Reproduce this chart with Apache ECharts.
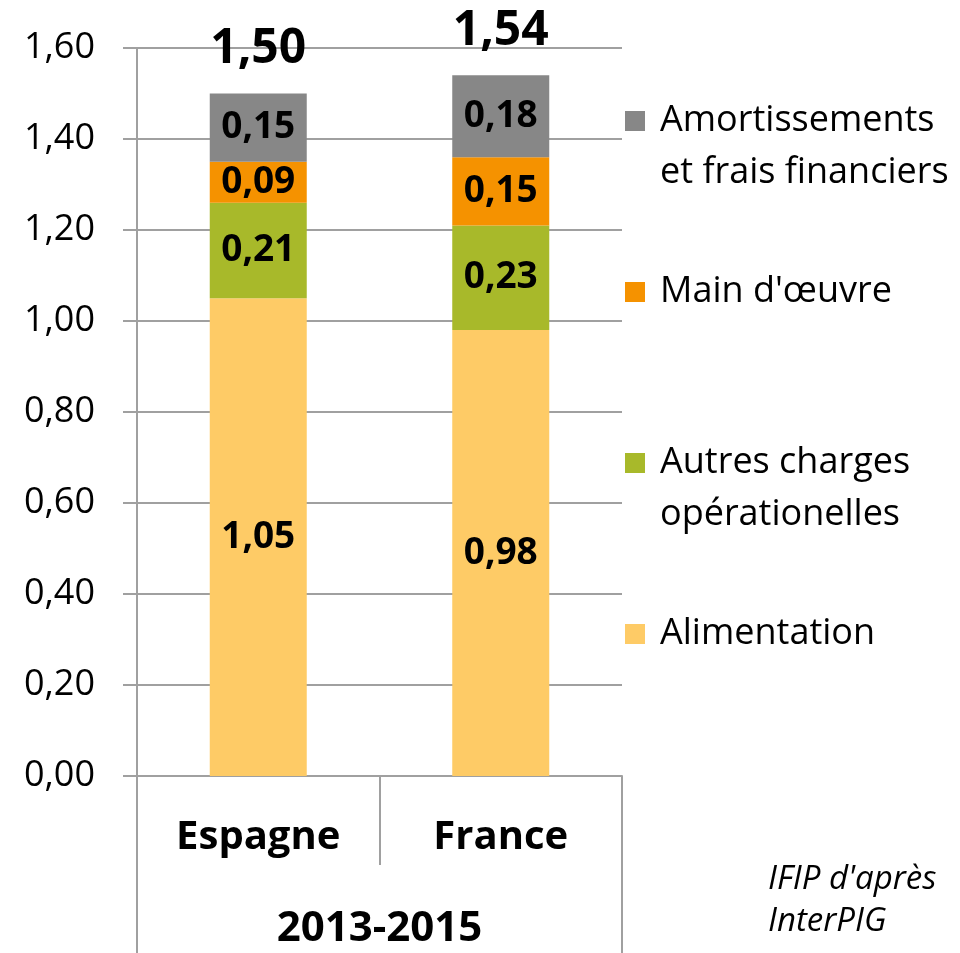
<!DOCTYPE html>
<html>
<head>
<meta charset="utf-8">
<script src="https://cdn.jsdelivr.net/npm/echarts@6/dist/echarts.min.js"></script>
<style>html,body{margin:0;padding:0;background:#fff;}#c{width:960px;height:953px;}</style>
</head>
<body>
<div id="c"></div>
<script>
const categories = ['Espagne', 'France'];
const groupLabel = ['2013-2015'];
const alimentation = [1.05, 0.98];
const autresCharges = [0.21, 0.23];
const mainOeuvre = [0.09, 0.15];
const amortissements = [0.15, 0.18];
const seriesNames = ['Alimentation', 'Autres charges\nopérationelles', "Main d'œuvre", 'Amortissements\net frais financiers'];
const yTicks = { min: 0, max: 1.6, interval: 0.2 };
const sourceNote = "IFIP d'après\nInterPIG";

const totals = categories.map((c, i) => +(alimentation[i] + autresCharges[i] + mainOeuvre[i] + amortissements[i]).toFixed(2));
const fmt = v => Number(v).toFixed(2).replace('.', ',');
const FONT = 'Open Sans';
const GRAY = '#a0a0a0';
const colors = ['#FECB66', '#A8B92A', '#F59200', '#878787'];
const data = [alimentation, autresCharges, mainOeuvre, amortissements];

const chart = echarts.init(document.getElementById('c'));
const barSeries = seriesNames.map((n, k) => ({
  name: n,
  type: 'bar',
  stack: 'total',
  barWidth: '40%',
  data: data[k],
  itemStyle: { color: colors[k] },
  label: {
    show: true, position: 'inside', color: '#000', fontFamily: FONT,
    fontWeight: 'bold', fontSize: 37, formatter: p => fmt(p.value)
  },
  emphasis: { disabled: true }
}));
barSeries.push({
  name: 'Total',
  type: 'bar',
  stack: 'total',
  barWidth: '40%',
  data: totals.map(() => 0),
  itemStyle: { color: 'transparent' },
  label: {
    show: true, position: 'top', distance: 20, color: '#000', fontFamily: FONT,
    fontWeight: 'bold', fontSize: 48, lineHeight: 48, formatter: p => fmt(totals[p.dataIndex])
  },
  emphasis: { disabled: true },
  z: 5
});

chart.setOption({
  animation: false,
  textStyle: { fontFamily: FONT },
  grid: { left: 137, right: 338, top: 48, bottom: 177, containLabel: false },
  legend: {
    orient: 'vertical', left: 625, top: 43, padding: 0, itemGap: 67,
    itemWidth: 20, itemHeight: 20, icon: 'rect', selectedMode: false,
    textStyle: { fontFamily: FONT, fontSize: 36, lineHeight: 52, color: '#000', padding: [0, 0, 0, 10] },
    formatter: name => name.indexOf('\n') >= 0 ? ' \n' + name : name,
    data: [seriesNames[3], seriesNames[2], seriesNames[1], seriesNames[0]]
  },
  title: {
    text: sourceNote, left: 768, top: 859, padding: 0,
    textStyle: { fontFamily: FONT, fontStyle: 'italic', fontWeight: 'normal', fontSize: 33, lineHeight: 42, color: '#000' }
  },
  xAxis: [
    {
      type: 'category', data: categories, position: 'bottom',
      axisLine: { show: true, lineStyle: { color: GRAY, width: 2 } },
      axisTick: { show: true, interval: 0, length: 89, lineStyle: { color: GRAY, width: 2 } },
      axisLabel: { interval: 0, margin: 42, color: '#000', fontFamily: FONT, fontWeight: 'bold', fontSize: 40, lineHeight: 40 }
    },
    {
      type: 'category', data: groupLabel, position: 'bottom',
      axisLine: { show: false },
      axisTick: { show: true, interval: 0, length: 177, lineStyle: { color: GRAY, width: 2 } },
      axisLabel: { interval: 0, margin: 132, color: '#000', fontFamily: FONT, fontWeight: 'bold', fontSize: 42, lineHeight: 42 }
    }
  ],
  yAxis: {
    type: 'value', min: yTicks.min, max: yTicks.max, interval: yTicks.interval,
    axisLine: { show: true, lineStyle: { color: GRAY, width: 2 } },
    axisTick: { show: true, length: 14, lineStyle: { color: GRAY, width: 2 } },
    splitLine: { show: true, lineStyle: { color: GRAY, width: 2 } },
    axisLabel: { margin: 42, color: '#000', fontFamily: FONT, fontSize: 36, formatter: v => fmt(v) }
  },
  series: barSeries
});
</script>
</body>
</html>
